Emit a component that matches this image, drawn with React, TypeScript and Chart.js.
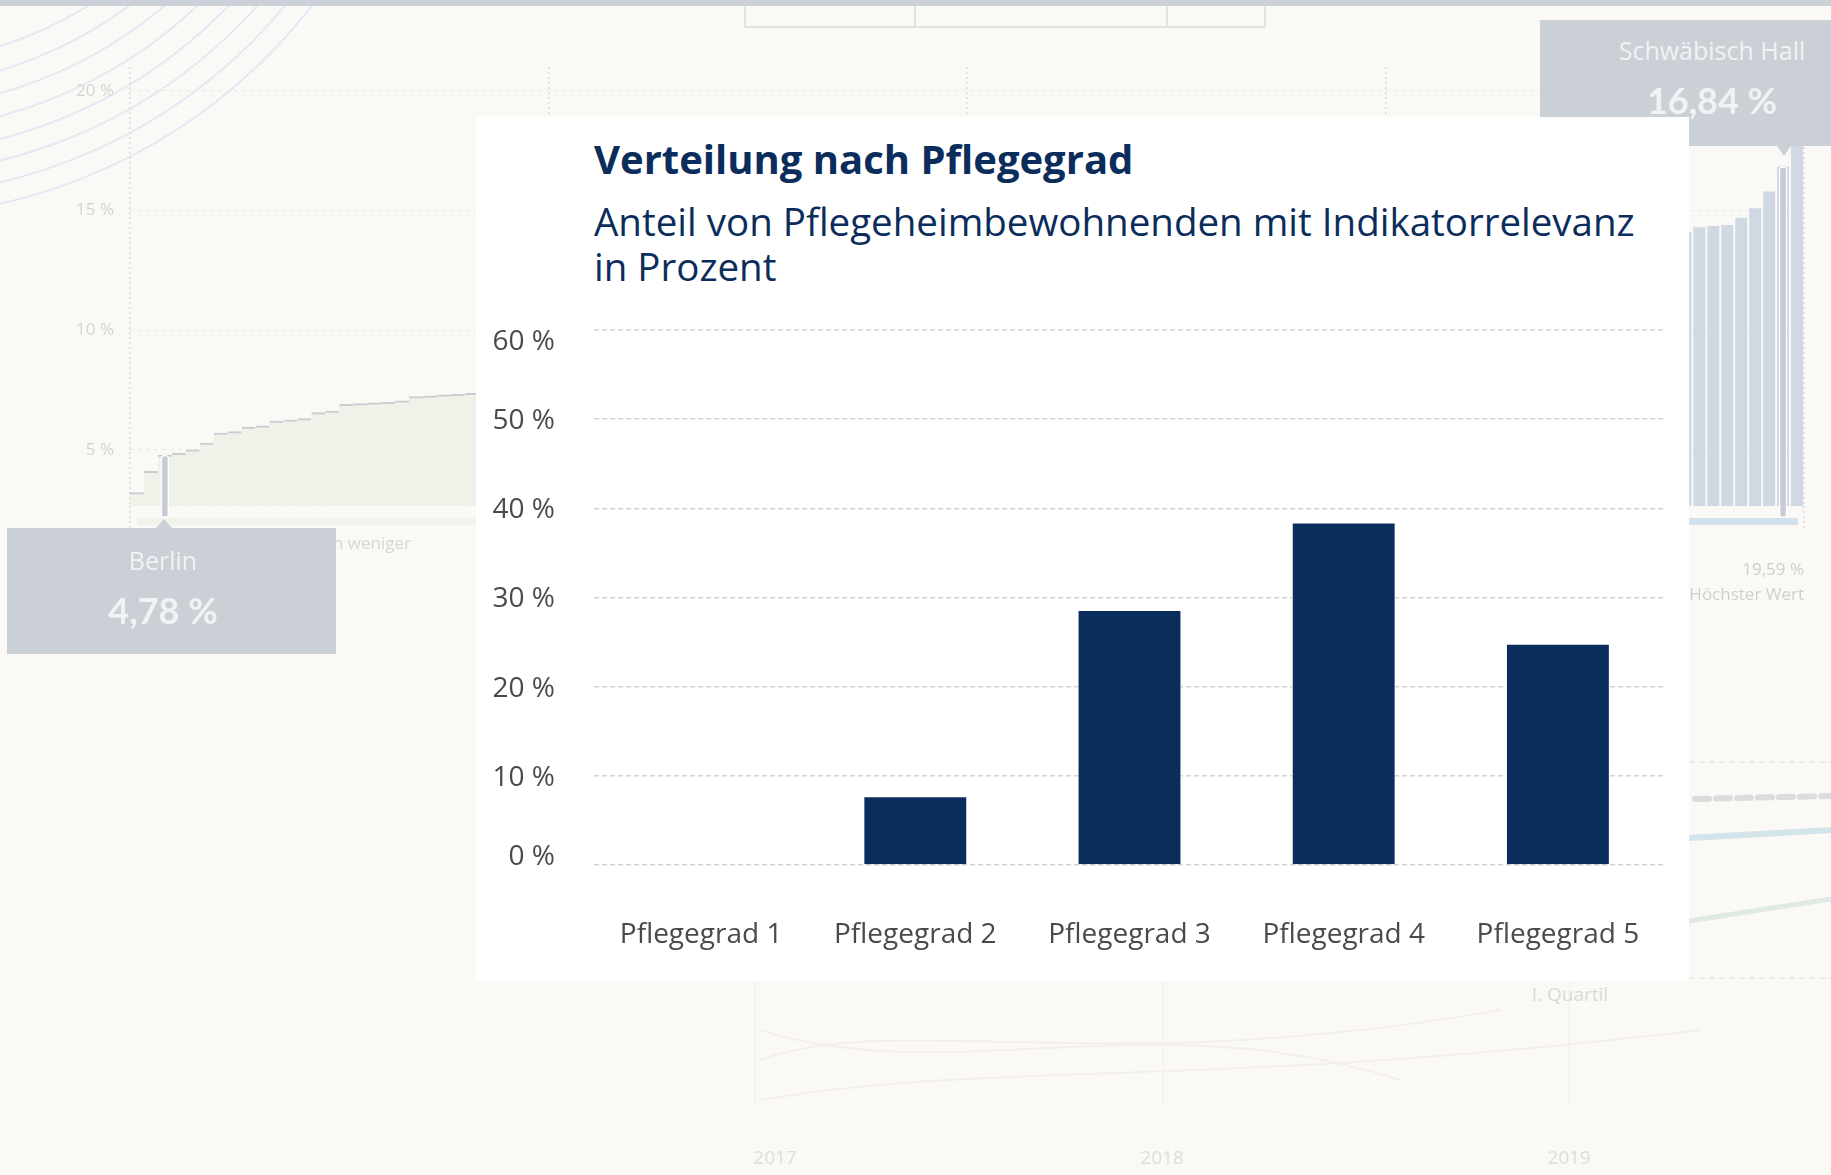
import React, { useEffect, useRef } from "react";
import { Chart, registerables } from "chart.js";

Chart.register(...registerables);

// ---------- main chart data ----------
const categories = ["Pflegegrad 1", "Pflegegrad 2", "Pflegegrad 3", "Pflegegrad 4", "Pflegegrad 5"];
const shares = [0.1, 7.7, 28.6, 38.4, 24.8];
const yMin = 0;
const yMax = 60;
const yStep = 10;

// ---------- faded background ranking chart (districts sorted by value) ----------
const bgLowValues = [3.21, 4.1, 4.78, 4.85, 5.0, 5.28, 5.7, 5.76, 5.95, 6.0, 6.2, 6.25, 6.3, 6.55, 6.62, 6.9, 6.93, 6.96, 6.98, 7.05, 7.22, 7.26, 7.3, 7.32, 7.36];
const bgHiddenCount = 86; // districts hidden behind the overlay panel
const bgHighValues = [14.1, 14.3, 14.35, 14.4, 14.7, 15.1, 15.8, 16.84, 19.59];
const bgTicks = [5, 10, 15, 20];
const quartileTicks = [0, 1, 2, 3, 4];
const berlinIndex = 2;
const hallIndex = 118;

const FONT = "'Open Sans', sans-serif";
const FONT_LATO = "Lato, 'Open Sans', sans-serif";
const NAVY = "#0b2d5b";

function BackgroundChart() {
  const ref = useRef<HTMLCanvasElement>(null);
  useEffect(() => {
    if (!ref.current) return;
    const values: (number | null)[] = [
      ...bgLowValues,
      ...new Array(bgHiddenCount).fill(null),
      ...bgHighValues,
    ];
    const labels = values.map((_, i) => String(i + 1));
    const n = values.length;
    const lowData = values.map((v, i) => (i < n / 2 ? v : null));
    const highData = values.map((v, i) => (i >= n / 2 ? v : null));
    const highlight = values.map((v, i) =>
      i === berlinIndex || i === hallIndex ? [2.15, v as number] : null
    );
    const chart = new Chart(ref.current, {
      type: "bar",
      data: {
        labels,
        datasets: [
          {
            data: highlight as any,
            backgroundColor: "#c6ccd5",
            borderColor: "#ffffff",
            borderWidth: 1.5,
            borderRadius: 3,
            borderSkipped: false,
            barPercentage: 0.6,
            categoryPercentage: 1,
            grouped: false,
            order: 0,
            clip: false as any,
          },
          {
            data: lowData,
            backgroundColor: "#eef2e8",
            borderColor: "#c9cdd3",
            borderWidth: { top: 2, left: 0, right: 0, bottom: 0 } as any,
            borderSkipped: false,
            barPercentage: 1,
            categoryPercentage: 1,
            grouped: false,
            order: 1,
          },
          {
            data: highData,
            backgroundColor: "#d0d9e3",
            borderWidth: 0,
            barPercentage: 0.86,
            categoryPercentage: 1,
            grouped: false,
            order: 2,
          },
        ],
      },
      options: {
        animation: false,
        responsive: false,
        layout: { padding: { top: 67, right: 27, left: 0, bottom: 0 } },
        plugins: { legend: { display: false }, tooltip: { enabled: false }, title: { display: false } },
        scales: {
          x: { type: "category", display: false, offset: true },
          x2: {
            type: "linear",
            position: "bottom",
            min: 0,
            max: 4,
            offset: false,
            afterBuildTicks: (s: any) => {
              s.ticks = quartileTicks.map((v) => ({ value: v }));
            },
            ticks: { display: false },
            grid: {
              offset: false,
              color: "#d9d9d9",
              lineWidth: 1.5,
              drawTicks: true,
              tickLength: 22,
              tickColor: "#d9d9d9",
              tickBorderDash: [2, 3],
            } as any,
            border: { display: false, dash: [2, 3] } as any,
            afterFit: (s: any) => {
              s.height = 94;
            },
          },
          y: {
            min: 2.65,
            max: 21,
            afterBuildTicks: (s: any) => {
              s.ticks = bgTicks.map((v) => ({ value: v }));
            },
            ticks: {
              color: "#d4d4d4",
              font: { family: FONT, size: 17 },
              padding: 16,
              callback: (v: any) => `${v} %`,
            },
            grid: { color: "#eae9e5", drawTicks: false, lineWidth: 1 } as any,
            border: { display: false, dash: [4, 4] } as any,
            afterFit: (s: any) => {
              s.width = 130;
            },
          },
        },
      },
    });
    return () => chart.destroy();
  }, []);
  return (
    <canvas
      ref={ref}
      width={1831}
      height={600}
      style={{ position: "absolute", left: 0, top: 0, width: 1831, height: 600 }}
    />
  );
}

function MainChart() {
  const ref = useRef<HTMLCanvasElement>(null);
  useEffect(() => {
    if (!ref.current) return;
    const chart = new Chart(ref.current, {
      type: "bar",
      data: {
        labels: categories,
        datasets: [
          {
            data: shares,
            backgroundColor: NAVY,
            borderColor: "#ffffff",
            borderWidth: 1,
            barPercentage: 0.485,
            categoryPercentage: 1,
          },
        ],
      },
      options: {
        animation: false,
        responsive: false,
        layout: { padding: { top: 40, right: 25, left: 0, bottom: 0 } },
        plugins: { legend: { display: false }, tooltip: { enabled: false }, title: { display: false } },
        scales: {
          x: {
            grid: { display: false },
            border: { display: false },
            ticks: {
              color: "#4a4a4a",
              font: { family: FONT, size: 28 },
              padding: 45,
              maxRotation: 0,
            },
            afterFit: (s: any) => {
              s.height = 115;
            },
          },
          y: {
            min: yMin,
            max: yMax,
            ticks: {
              stepSize: yStep,
              color: "#4a4a4a",
              labelOffset: 2,
              padding: 5,
              font: (ctx: any) => {
                const v = ctx.tick ? ctx.tick.value : null;
                const lh = v === yMax ? "20px" : v === yMin ? "20px" : 1.2;
                return { family: FONT, size: 28, lineHeight: lh };
              },
              callback: (v: any) => {
                const t = `${v} %`;
                if (v === yMax) return ["", t];
                if (v === yMin) return [t, ""];
                return t;
              },
            } as any,
            grid: {
              color: "#d2d2d2",
              lineWidth: 1.5,
              drawTicks: true,
              tickLength: 34,
              tickColor: "rgba(0,0,0,0)",
            } as any,
            border: { display: false, dash: [5, 3] } as any,
            afterFit: (s: any) => {
              s.width = 104;
            },
          },
        },
      },
    });
    return () => chart.destroy();
  }, []);
  return (
    <canvas
      ref={ref}
      width={1200}
      height={690}
      style={{ position: "absolute", left: 14, top: 173, width: 1200, height: 690 }}
    />
  );
}

const abs = (s: React.CSSProperties): React.CSSProperties => ({ position: "absolute", ...s });

export default function App() {
  const arcRadii = [395, 418, 440, 462, 484, 505, 526, 547];
  return (
    <div
      style={abs({
        left: 0,
        top: 0,
        width: 1831,
        height: 1175,
        overflow: "hidden",
        background: "#fbf9f5",
        fontFamily: FONT,
      })}
    >
      {/* decorative background shapes */}
      <svg width={1831} height={1175} style={abs({ left: 0, top: 0 })}>
        {arcRadii.map((r) => (
          <circle key={r} cx={-120} cy={-330} r={r} fill="none" stroke="#e3e9f4" strokeWidth={2} />
        ))}
        <path d="M 760 1030 C 950 1090, 1150 1000, 1400 1080" stroke="#f3f0eb" strokeWidth={2} fill="none" />
        <path d="M 760 1060 C 900 1010, 1100 1080, 1500 1010" stroke="#f3f0eb" strokeWidth={2} fill="none" />
        <path d="M 760 1100 C 1000 1060, 1200 1090, 1700 1030" stroke="#f3f0eb" strokeWidth={2} fill="none" />
        <line x1={755} y1={981} x2={755} y2={1107} stroke="#efefef" strokeWidth={1} />
        <line x1={1163} y1={981} x2={1163} y2={1107} stroke="#efefef" strokeWidth={1} />
        <line x1={1569} y1={981} x2={1569} y2={1107} stroke="#efefef" strokeWidth={1} />
        <line x1={1689} y1={762} x2={1831} y2={762} stroke="#e6e6e6" strokeWidth={1.5} strokeDasharray="6 4" />
        <line x1={1689} y1={978} x2={1831} y2={978} stroke="#e6e6e6" strokeWidth={1.5} strokeDasharray="6 4" />
        <line x1={1695} y1={799} x2={1831} y2={796} stroke="#dcdcdc" strokeWidth={6} strokeDasharray="14 7" strokeLinecap="round" />
        <line x1={1689} y1={838} x2={1831} y2={830} stroke="#d3e4ea" strokeWidth={6} />
        <line x1={1689} y1={921} x2={1831} y2={899} stroke="#dfeae4" strokeWidth={5} />
      </svg>

      {/* top bar and top boxes */}
      <div style={abs({ left: 0, top: 0, width: 1831, height: 6, background: "#ccd1d9" })} />
      <div style={abs({ left: 744, top: 6, width: 518, height: 20, border: "2px solid #e2e2e2", borderTop: "none" })} />
      <div style={abs({ left: 914, top: 6, width: 2, height: 22, background: "#e2e2e2" })} />
      <div style={abs({ left: 1166, top: 6, width: 2, height: 22, background: "#e2e2e2" })} />

      {/* quartile strips under the background chart */}
      <div style={abs({ left: 137, top: 518, width: 411, height: 7, background: "#f1f4ea" })} />
      <div style={abs({ left: 1386, top: 518, width: 412, height: 7, background: "#d3e2ea" })} />

      <BackgroundChart />

      {/* faded texts of background */}
      <div style={abs({ left: 180, top: 531, width: 231, textAlign: "right", fontSize: 17, color: "#d6d6d6", whiteSpace: "nowrap" })}>
        20 % mit den weniger
      </div>
      <div style={abs({ left: 1580, top: 556, width: 224, textAlign: "right", fontSize: 17, color: "#cfcfcf", lineHeight: "25px" })}>
        19,59 %
        <br />
        Höchster Wert
      </div>
      <div style={abs({ left: 1500, top: 981, width: 140, textAlign: "center", fontSize: 19, color: "#d9d9d9" })}>I. Quartil</div>
      <div style={abs({ left: 725, top: 1144, width: 100, textAlign: "center", fontSize: 19, color: "#dedede" })}>2017</div>
      <div style={abs({ left: 1112, top: 1144, width: 100, textAlign: "center", fontSize: 19, color: "#dedede" })}>2018</div>
      <div style={abs({ left: 1519, top: 1144, width: 100, textAlign: "center", fontSize: 19, color: "#dedede" })}>2019</div>

      {/* Berlin callout */}
      <div
        style={abs({
          left: 156,
          top: 519,
          width: 0,
          height: 0,
          borderLeft: "8px solid transparent",
          borderRight: "8px solid transparent",
          borderBottom: "9px solid #cbd0d7",
        })}
      />
      <div style={abs({ left: 7, top: 528, width: 329, height: 126, background: "#cbd0d7" })}>
        <div style={abs({ left: 0, top: 15, width: 312, textAlign: "center", fontSize: 25, color: "#f1f2f4" })}>Berlin</div>
        <div style={abs({ left: 0, top: 60, width: 312, textAlign: "center", fontSize: 36, fontWeight: 700, color: "#f1f2f4", fontFamily: FONT_LATO })}>4,78 %</div>
      </div>

      {/* Schwäbisch Hall callout */}
      <div style={abs({ left: 1540, top: 20, width: 291, height: 126, background: "#cbd0d7" })}>
        <div style={abs({ left: 0, top: 13, width: 344, textAlign: "center", fontSize: 25, color: "#f1f2f4" })}>Schwäbisch Hall</div>
        <div style={abs({ left: 0, top: 58, width: 344, textAlign: "center", fontSize: 36, fontWeight: 700, color: "#f1f2f4", fontFamily: FONT_LATO })}>16,84 %</div>
      </div>
      <div
        style={abs({
          left: 1777,
          top: 146,
          width: 0,
          height: 0,
          borderLeft: "7px solid transparent",
          borderRight: "7px solid transparent",
          borderTop: "10px solid #cbd0d7",
        })}
      />

      {/* overlay panel with the main chart */}
      <div style={abs({ left: 476, top: 117, width: 1213, height: 864, background: "#ffffff" })}>
        <div
          style={abs({
            left: 118,
            top: 21,
            fontSize: 40,
            lineHeight: "41px",
            fontWeight: 700,
            color: NAVY,
            whiteSpace: "nowrap",
          })}
        >
          Verteilung nach Pflegegrad
        </div>
        <div
          style={abs({
            left: 118,
            top: 82,
            fontSize: 38.5,
            lineHeight: "45px",
            fontWeight: 400,
            color: NAVY,
            whiteSpace: "nowrap",
          })}
        >
          Anteil von Pflegeheimbewohnenden mit Indikatorrelevanz
          <br />
          in Prozent
        </div>
        <MainChart />
      </div>
    </div>
  );
}
